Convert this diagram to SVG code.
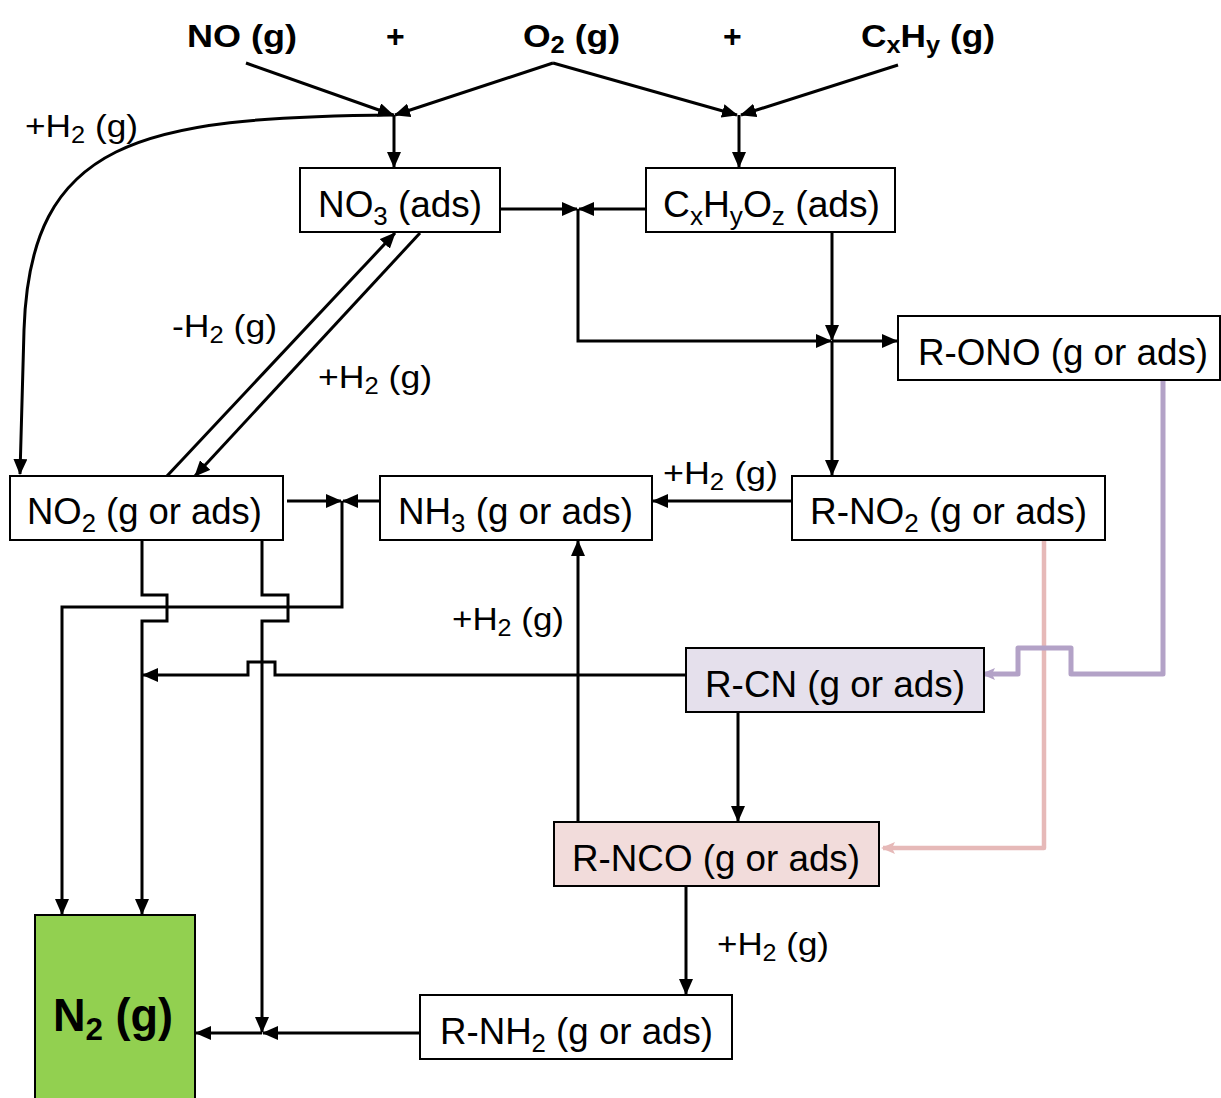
<svg xmlns="http://www.w3.org/2000/svg" width="1221" height="1098" viewBox="0 0 1221 1098">
<style>
text{font-family:"Liberation Sans Narrow","Liberation Sans",Arial,sans-serif;font-size:37px;fill:#000}
.l{font-size:32px}
.b{font-weight:bold;font-size:32px}
.s{font-size:26px}
.ls{font-size:23px}
.box{fill:#fff;stroke:#000;stroke-width:2}
.ln{fill:none;stroke:#000;stroke-width:3}
</style>
<defs>
<marker id="ah" markerWidth="16" markerHeight="14" refX="15" refY="7" orient="auto" markerUnits="userSpaceOnUse"><path d="M0,0 L16,7 L0,14 z" fill="#000"/></marker>
<marker id="ap" markerWidth="14" markerHeight="12" refX="12" refY="6" orient="auto" markerUnits="userSpaceOnUse"><path d="M0,0 L14,6 L0,12 L3,6 z" fill="#b3a2c7"/></marker>
<marker id="ak" markerWidth="14" markerHeight="12" refX="12" refY="6" orient="auto" markerUnits="userSpaceOnUse"><path d="M0,0 L14,6 L0,12 L3,6 z" fill="#e6b9b8"/></marker>
</defs>
<g id="labels">
<text class="b" x="187" y="47" textLength="110" lengthAdjust="spacingAndGlyphs">NO (g)</text>
<text class="b" x="386" y="47">+</text>
<text class="b" x="523" y="47" textLength="97" lengthAdjust="spacingAndGlyphs">O<tspan class="ls" dy="6">2</tspan><tspan dy="-6"> (g)</tspan></text>
<text class="b" x="723" y="47">+</text>
<text class="b" x="861" y="47" textLength="134" lengthAdjust="spacingAndGlyphs">C<tspan class="ls" dy="6">x</tspan><tspan dy="-6">H</tspan><tspan class="ls" dy="6">y</tspan><tspan dy="-6"> (g)</tspan></text>
<text class="l" x="25" y="137" textLength="113" lengthAdjust="spacingAndGlyphs">+H<tspan class="ls" dy="6">2</tspan><tspan dy="-6"> (g)</tspan></text>
<text class="l" x="172" y="337" textLength="105" lengthAdjust="spacingAndGlyphs">-H<tspan class="ls" dy="6">2</tspan><tspan dy="-6"> (g)</tspan></text>
<text class="l" x="318" y="388" textLength="114" lengthAdjust="spacingAndGlyphs">+H<tspan class="ls" dy="6">2</tspan><tspan dy="-6"> (g)</tspan></text>
<text class="l" x="663" y="484" textLength="115" lengthAdjust="spacingAndGlyphs">+H<tspan class="ls" dy="6">2</tspan><tspan dy="-6"> (g)</tspan></text>
<text class="l" x="452" y="630" textLength="112" lengthAdjust="spacingAndGlyphs">+H<tspan class="ls" dy="6">2</tspan><tspan dy="-6"> (g)</tspan></text>
<text class="l" x="717" y="955" textLength="112" lengthAdjust="spacingAndGlyphs">+H<tspan class="ls" dy="6">2</tspan><tspan dy="-6"> (g)</tspan></text>
</g>
<g id="connectors">
<path class="ln" d="M246,63 L393,115" marker-end="url(#ah)"/>
<path class="ln" d="M553,63 L395,115" marker-end="url(#ah)"/>
<path class="ln" d="M553,63 L737,115" marker-end="url(#ah)"/>
<path class="ln" d="M898,65 L741,115" marker-end="url(#ah)"/>
<path class="ln" d="M394,115 L394,167" marker-end="url(#ah)"/>
<path class="ln" d="M739,115 L739,167" marker-end="url(#ah)"/>
<path class="ln" d="M394,115 C140,117 30,140 24,330 L20,474" marker-end="url(#ah)"/>
<path class="ln" d="M500,209 L577,209" marker-end="url(#ah)"/>
<path class="ln" d="M646,209 L579,209" marker-end="url(#ah)"/>
<path class="ln" d="M578,209 L578,341 L831,341" marker-end="url(#ah)"/>
<path class="ln" d="M832,232 L832,340" marker-end="url(#ah)"/>
<path class="ln" d="M832,341 L832,475" marker-end="url(#ah)"/>
<path class="ln" d="M832,341 L897,341" marker-end="url(#ah)"/>
<path class="ln" d="M167,476 L395,233" marker-end="url(#ah)"/>
<path class="ln" d="M420,233 L195,476" marker-end="url(#ah)"/>
<path class="ln" d="M792,501 L653,501" marker-end="url(#ah)"/>
<path class="ln" d="M287,501 L341,501" marker-end="url(#ah)"/>
<path class="ln" d="M380,501 L343,501" marker-end="url(#ah)"/>
<path class="ln" d="M342,501 L342,607 L62,607 L62,914" marker-end="url(#ah)"/>
<path class="ln" d="M142,540 L142,595 L167,595 L167,621 L142,621 L142,914" marker-end="url(#ah)"/>
<path class="ln" d="M262,540 L262,595 L288,595 L288,621 L262,621 L262,1032" marker-end="url(#ah)"/>
<path class="ln" d="M686,675 L275,675 L275,662 L248,662 L248,675 L143,675" marker-end="url(#ah)"/>
<path class="ln" d="M578,822 L578,541" marker-end="url(#ah)"/>
<path class="ln" d="M738,712 L738,821" marker-end="url(#ah)"/>
<path class="ln" d="M686,886 L686,994" marker-end="url(#ah)"/>
<path class="ln" d="M420,1033 L263,1033" marker-end="url(#ah)"/>
<path class="ln" d="M262,1033 L196,1033" marker-end="url(#ah)"/>
<path d="M1044,540 L1044,848 L883,848" fill="none" stroke="#e6b9b8" stroke-width="4.5" stroke-linejoin="round" marker-end="url(#ak)"/>
<path d="M1163,380 L1163,674 L1071,674 L1071,648 L1018,648 L1018,674 L983,674" fill="none" stroke="#b3a2c7" stroke-width="5" stroke-linejoin="round" marker-end="url(#ap)"/>
</g>
<g id="n-no3"><rect class="box" x="300" y="168" width="200" height="64"/><text x="318" y="217" textLength="164" lengthAdjust="spacingAndGlyphs">NO<tspan class="s" dy="8">3</tspan><tspan dy="-8"> (ads)</tspan></text></g>
<g id="n-cxhyoz"><rect class="box" x="646" y="168" width="249" height="64"/><text x="663" y="217" textLength="217" lengthAdjust="spacingAndGlyphs">C<tspan class="s" dy="8">x</tspan><tspan dy="-8">H</tspan><tspan class="s" dy="8">y</tspan><tspan dy="-8">O</tspan><tspan class="s" dy="8">z</tspan><tspan dy="-8"> (ads)</tspan></text></g>
<g id="n-rono"><rect class="box" x="898" y="316" width="322" height="64"/><text x="918" y="365" textLength="290" lengthAdjust="spacingAndGlyphs">R-ONO (g or ads)</text></g>
<g id="n-no2"><rect class="box" x="10" y="476" width="273" height="64"/><text x="27" y="524" textLength="235" lengthAdjust="spacingAndGlyphs">NO<tspan class="s" dy="8">2</tspan><tspan dy="-8"> (g or ads)</tspan></text></g>
<g id="n-nh3"><rect class="box" x="380" y="476" width="272" height="64"/><text x="398" y="524" textLength="235" lengthAdjust="spacingAndGlyphs">NH<tspan class="s" dy="8">3</tspan><tspan dy="-8"> (g or ads)</tspan></text></g>
<g id="n-rno2"><rect class="box" x="792" y="476" width="313" height="64"/><text x="810" y="524" textLength="277" lengthAdjust="spacingAndGlyphs">R-NO<tspan class="s" dy="8">2</tspan><tspan dy="-8"> (g or ads)</tspan></text></g>
<g id="n-rcn"><rect class="box" x="686" y="648" width="298" height="64" style="fill:#e5e0ec"/><text x="705" y="697" textLength="260" lengthAdjust="spacingAndGlyphs">R-CN (g or ads)</text></g>
<g id="n-rnco"><rect class="box" x="554" y="822" width="325" height="64" style="fill:#f2dcdb"/><text x="572" y="871" textLength="288" lengthAdjust="spacingAndGlyphs">R-NCO (g or ads)</text></g>
<g id="n-rnh2"><rect class="box" x="420" y="995" width="312" height="64"/><text x="440" y="1044" textLength="273" lengthAdjust="spacingAndGlyphs">R-NH<tspan class="s" dy="8">2</tspan><tspan dy="-8"> (g or ads)</tspan></text></g>
<g id="n-n2"><rect class="box" x="35" y="915" width="160" height="190" style="fill:#92d050"/><text x="53" y="1031" style="font-size:46px;font-weight:bold" textLength="120" lengthAdjust="spacingAndGlyphs">N<tspan style="font-size:32px" dy="9">2</tspan><tspan dy="-9"> (g)</tspan></text></g>
</svg>
